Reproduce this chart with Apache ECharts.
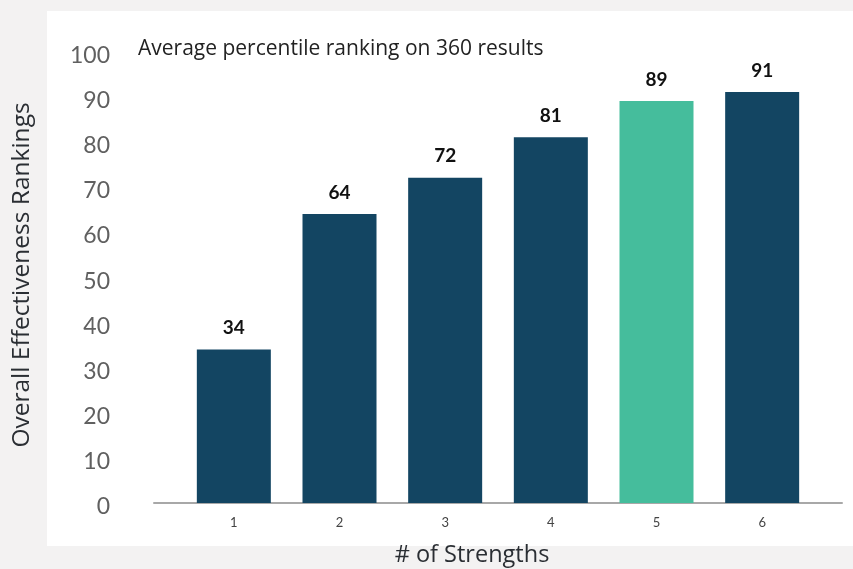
<!DOCTYPE html>
<html>
<head>
<meta charset="utf-8">
<script src="https://cdn.jsdelivr.net/npm/echarts@6/dist/echarts.min.js"></script>
<style>
html,body{margin:0;padding:0;background:#f3f2f2;}
#chart{width:853px;height:569px;}
</style>
</head>
<body>
<div id="chart"></div>
<script>
var categories = ['1', '2', '3', '4', '5', '6'];
var values = [34, 64, 72, 81, 89, 91];
var barColors = ['#134562', '#134562', '#134562', '#134562', '#45bd9c', '#134562'];
var yTicks = [0, 10, 20, 30, 40, 50, 60, 70, 80, 90, 100];
var titleText = 'Average percentile ranking on 360 results';
var yName = 'Overall Effectiveness Rankings';
var xName = '# of Strengths';

var chart = echarts.init(document.getElementById('chart'), null, {renderer: 'canvas'});
chart.setOption({
  backgroundColor: '#f3f2f2',
  animation: false,
  graphic: [
    {type: 'rect', shape: {x: 47, y: 11, width: 806, height: 535}, style: {fill: '#ffffff'}, z: -10},
    {type: 'text', x: 138, y: 49, style: {text: titleText, font: '21px "Open Sans"', fill: '#222', verticalAlign: 'middle'}},
    {type: 'text', x: 472, y: 555, style: {text: xName, font: '23.5px "Open Sans"', fill: '#2a2e33', align: 'center', verticalAlign: 'middle'}},
    {type: 'text', x: 22, y: 275, rotation: Math.PI / 2, style: {text: yName, font: '24.5px "Open Sans"', fill: '#2a2e33', align: 'center', verticalAlign: 'middle'}}
  ],
  grid: [
    {left: 181, right: 38, top: 51.4, bottom: 66},
    {left: 154, right: 11, top: 51.4, bottom: 66}
  ],
  xAxis: [
    {
      type: 'category', gridIndex: 0, data: categories,
      axisLine: {show: false}, axisTick: {show: false},
      axisLabel: {color: '#444', fontSize: 13, fontFamily: 'Lato', margin: 13}
    },
    {
      type: 'value', gridIndex: 1, min: 0, max: 1,
      axisLine: {show: true, lineStyle: {color: '#a8a8a8', width: 2}},
      axisTick: {show: false}, axisLabel: {show: false}, splitLine: {show: false}
    }
  ],
  yAxis: [
    {
      type: 'value', gridIndex: 0, min: 0, max: 100, interval: 10,
      axisLine: {show: false}, axisTick: {show: false}, splitLine: {show: false},
      axisLabel: {
        color: '#606060', fontSize: 23, fontFamily: 'Lato', margin: 71,
        verticalAlign: 'top', lineHeight: 8,
        formatter: function (v) { return yTicks.indexOf(v) >= 0 ? String(v) : ''; }
      }
    },
    {
      type: 'value', gridIndex: 1, min: 0, max: 100, show: false
    }
  ],
  series: [{
    type: 'bar', xAxisIndex: 0, yAxisIndex: 0,
    barWidth: 74,
    data: values.map(function (v, i) { return {value: v, itemStyle: {color: barColors[i]}}; }),
    label: {
      show: true, position: 'top', distance: 12,
      color: '#111', fontSize: 19, fontWeight: 'bold', fontFamily: 'Lato'
    }
  }]
});
</script>
</body>
</html>
